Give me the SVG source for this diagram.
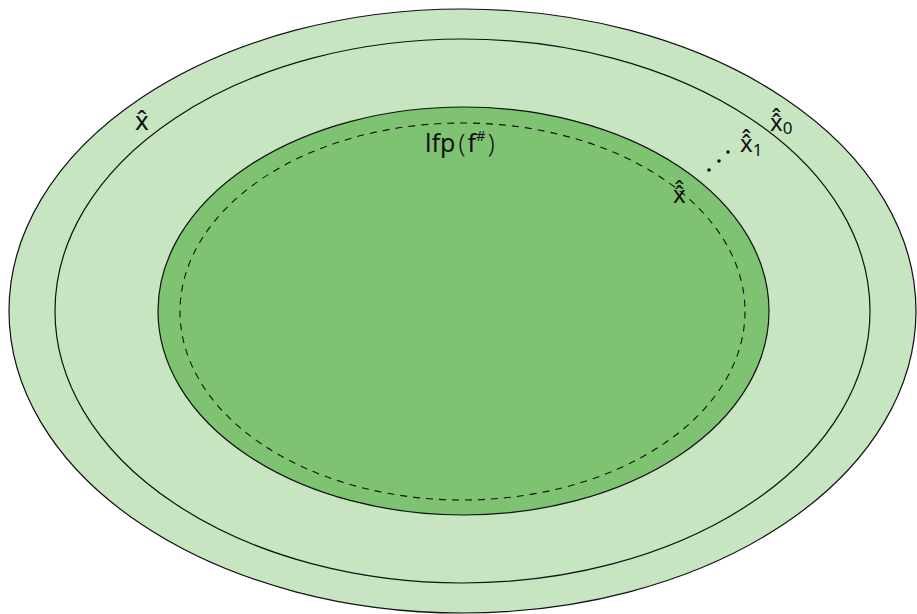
<svg xmlns="http://www.w3.org/2000/svg" width="917" height="614" viewBox="0 0 917 614">
<style>
.e{stroke:#111;stroke-width:1.2}
.t{font-family:"Noto Sans","Open Sans","DejaVu Sans",sans-serif;fill:#111}
.x{font-size:24px}
.s{font-size:17px}
</style>
<rect width="917" height="614" fill="#fff"/>
<g id="outer"><ellipse class="e" cx="462.5" cy="311" rx="453.5" ry="302" fill="#c7e5c1"/></g>
<g id="second"><ellipse class="e" cx="462.5" cy="311" rx="407.5" ry="272" fill="#c7e5c1"/></g>
<g id="lfp"><ellipse class="e" cx="463.5" cy="311" rx="305.5" ry="204" fill="#7dc372"/></g>
<g id="dashed"><ellipse cx="462.5" cy="311.5" rx="282.5" ry="188.5" fill="none" stroke="#111" stroke-width="1.1" stroke-dasharray="7 6"/></g>
<g id="labels">
<text class="t" x="425" y="152" font-size="25">lfp<tspan font-weight="300" dx="3">(</tspan><tspan dx="2">f</tspan><tspan font-size="15" dy="-11">#</tspan><tspan font-weight="300" dy="11" dx="2">)</tspan></text>
<text class="t" x="135" y="130" font-size="26">x̂</text>
<text class="t x" x="673" y="203">x̂̂</text>
<text class="t x" x="740" y="152">x̂̂<tspan class="s" dy="4">1</tspan></text>
<text class="t x" x="770" y="131">x̂̂<tspan class="s" dy="3">0</tspan></text>
<circle cx="709" cy="170" r="1.8" fill="#111"/>
<circle cx="719" cy="161" r="1.8" fill="#111"/>
<circle cx="728" cy="152" r="1.8" fill="#111"/>
</g>
</svg>
